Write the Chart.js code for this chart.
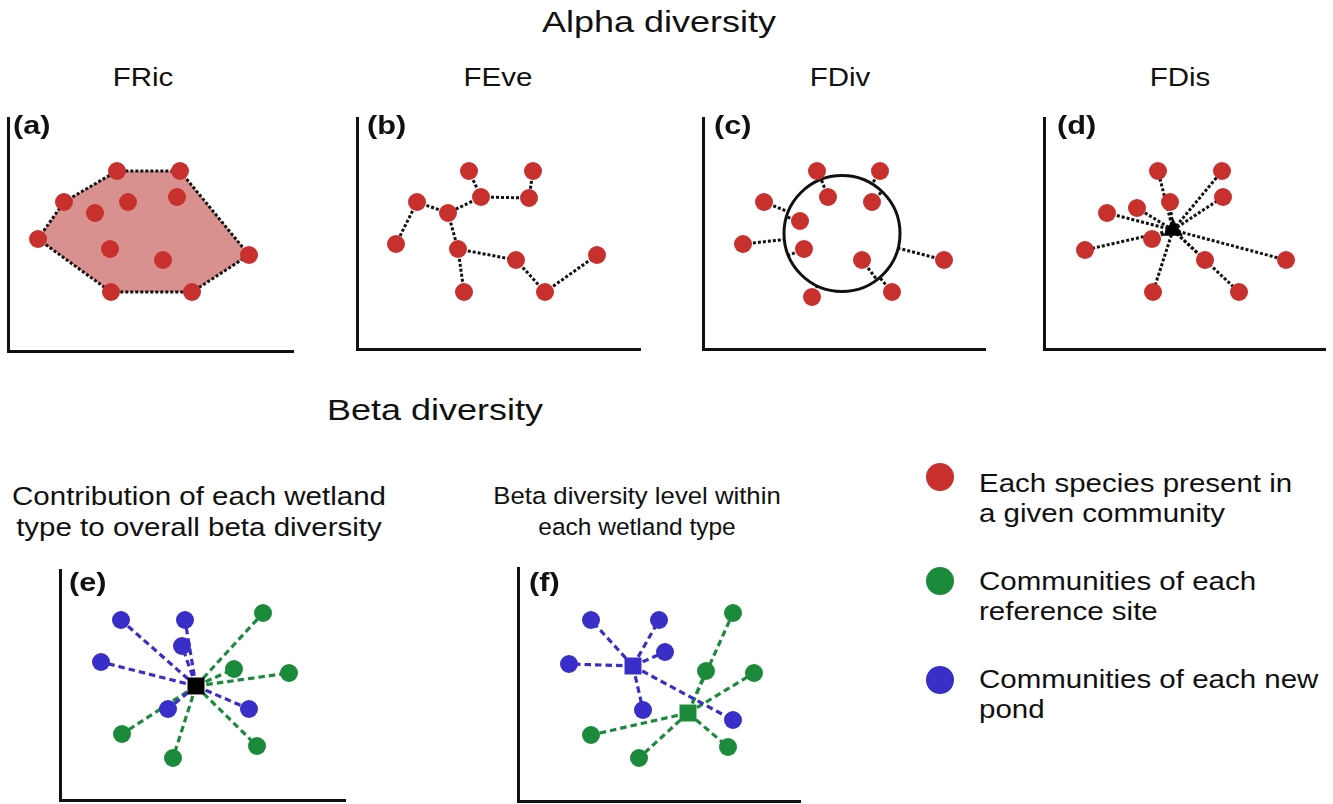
<!DOCTYPE html>
<html>
<head>
<meta charset="utf-8">
<title>Functional diversity indices</title>
<script src="https://cdn.jsdelivr.net/npm/chart.js@4.4.1/dist/chart.umd.min.js"></script>
<style>
  html, body { margin: 0; padding: 0; background: #fff; }
  #stage { position: relative; width: 1333px; height: 804px; overflow: hidden; background: #fff; }
  #stage canvas { position: absolute; }
  .t { position: absolute; white-space: nowrap; line-height: 1; color: #111;
       font-family: "Liberation Sans", Arial, Helvetica, sans-serif; }
  .dot { position: absolute; border-radius: 50%; }
</style>
</head>
<body>
<div id="stage">
  <canvas id="panelA"></canvas>
  <canvas id="panelB"></canvas>
  <canvas id="panelC"></canvas>
  <canvas id="panelD"></canvas>
  <canvas id="panelE"></canvas>
  <canvas id="panelF"></canvas>
</div>
<script>
// ---- Trait-space positions (x, y) of each species / community ----

// (a) FRic: species and the convex hull around them
const fricSpecies = [[109,180],[172,180],[56,149],[120,149],[87,138],[169,154],
                     [30,112],[102,102],[155,91],[241,96],[103,59],[184,59]];
const fricHull = [6, 2, 0, 1, 9, 11, 10];          // hull vertices, in order

// (b) FEve: species and the minimum spanning tree linking them
const feveSpecies = [[112,178],[176,178],[124,152],[172,151],[60,147],[91,136],
                     [39,105],[101,100],[159,89],[240,94],[107,57],[188,57]];
const feveTree = [[0,2],[1,3],[2,3],[2,5],[4,5],[4,6],[5,7],[7,10],[7,8],[8,11],[11,9]];

// (c) FDiv: species and the mean-distance circle around the centre of gravity
const fdivSpecies = [[114,178],[177,178],[125,152],[169,147],[61,147],[97,128],
                     [40,105],[101,100],[159,89],[241,89],[109,52],[189,57]];
const fdivCentre = [139, 115.5];
const fdivRadius = 58;

// (d) FDis: species and their weighted centroid
const fdisSpecies = [[114,178],[178,178],[126,147],[179,152],[63,136],[93,141],
                     [41,99],[108,110],[161,89],[242,89],[109,57],[195,57]];
const fdisCentroid = [129, 119];

// (e) contribution to overall beta diversity: one overall centroid
const contribNewPonds  = [[61,180],[125,180],[122,154],[41,138],[108,91],[189,91]];
const contribReference = [[203,187],[174,131],[229,127],[62,66],[113,42],[197,54]];
const contribCentroid  = [136, 114];

// (f) beta diversity within each wetland type: one centroid per type
const levelNewPonds  = [[73,181],[141,181],[147,149],[51,137],[125,91],[215,81]];
const levelReference = [[215,188],[188,130],[236,128],[73,66],[121,43],[210,54]];
const levelNewCentroid = [115, 135];
const levelRefCentroid = [170, 88];

// Legend entries
const legendLabels = [
  ['Each species present in', 'a given community'],
  ['Communities of each', 'reference site'],
  ['Communities of each new', 'pond']
];

// ---- Styling ----
const RED = '#c8302d', PINK = '#d9918f', GREEN = '#1b8b3b', BLUE = '#3a2ec8', INK = '#111';

const pt = ([x, y]) => ({ x, y });

function dots(list, color, radius = 9) {
  return { data: list.map(pt), pointRadius: radius, pointHoverRadius: radius,
           backgroundColor: color, borderWidth: 0, order: 0, clip: false };
}
function marker(p, style, color, radius) {
  return { data: [pt(p)], pointStyle: style, pointRadius: radius, pointHoverRadius: radius,
           backgroundColor: color, borderWidth: 0, order: 0, clip: false };
}
const dotted = color => ({ borderColor: color, borderWidth: 3, borderDash: [3, 2] });
const dashed = color => ({ borderColor: color, borderWidth: 3.2, borderDash: [6.5, 4] });
function segments(pairs, style) {
  return pairs.map(([a, b]) => Object.assign({
    data: [pt(a), pt(b)], showLine: true, pointRadius: 0, pointHoverRadius: 0,
    fill: false, clip: false, order: 2
  }, style));
}
// spokes start at the centre so that overlapping spokes share one dash phase
const spokes = (centre, list, style) => segments(list.map(p => [centre, p]), style);

// Fills the polygon traced by any dataset carrying an areaColor
const areaFill = {
  id: 'areaFill',
  beforeDatasetsDraw(chart) {
    const ctx = chart.ctx;
    chart.data.datasets.forEach((ds, i) => {
      if (!ds.areaColor) return;
      const els = chart.getDatasetMeta(i).data;
      ctx.save();
      ctx.beginPath();
      els.forEach((e, k) => k ? ctx.lineTo(e.x, e.y) : ctx.moveTo(e.x, e.y));
      ctx.closePath();
      ctx.fillStyle = ds.areaColor;
      ctx.fill();
      ctx.restore();
    });
  }
};

// Draws the FDiv circle in data units through the chart scales
const divCircle = {
  id: 'divCircle',
  beforeDatasetsDraw(chart) {
    const { ctx, scales: { x, y } } = chart;
    const cx = x.getPixelForValue(fdivCentre[0]);
    const cy = y.getPixelForValue(fdivCentre[1]);
    const r = x.getPixelForValue(fdivCentre[0] + fdivRadius) - cx;
    ctx.save();
    ctx.beginPath();
    ctx.arc(cx, cy, r, 0, Math.PI * 2);
    ctx.lineWidth = 3;
    ctx.strokeStyle = INK;
    ctx.stroke();
    ctx.restore();
  }
};

function buildPanel(id, axis, datasets, plugins = []) {
  const pad = 14;
  const w = axis.right - axis.left, h = axis.bottom - axis.top;
  const cv = document.getElementById(id);
  cv.width = w + 2 * pad; cv.height = h + 2 * pad;
  cv.style.width = cv.width + 'px'; cv.style.height = cv.height + 'px';
  cv.style.left = (axis.left - pad) + 'px'; cv.style.top = (axis.top - pad) + 'px';
  const scale = max => ({
    type: 'linear', min: 0, max, display: true,
    ticks: { display: false },
    grid: { display: false, drawTicks: false },
    border: { display: true, color: INK, width: 3 }
  });
  return new Chart(cv, {
    type: 'scatter',
    data: { datasets },
    options: {
      responsive: false, animation: false, events: [],
      layout: { padding: pad },
      plugins: { legend: { display: false }, tooltip: { enabled: false } },
      scales: { x: scale(w), y: scale(h) }
    },
    plugins
  });
}

// (a) FRic
const hullPath = fricHull.concat(fricHull[0]).map(i => fricSpecies[i]);
buildPanel('panelA', { left: 8, top: 118, bottom: 351, right: 293 }, [
  dots(fricSpecies, RED),
  Object.assign({ data: hullPath.map(pt), showLine: true, pointRadius: 0, pointHoverRadius: 0,
                  fill: false, clip: false, order: 2, areaColor: PINK }, dotted(INK))
], [areaFill]);

// (b) FEve
buildPanel('panelB', { left: 357, top: 118, bottom: 349, right: 640 }, [
  dots(feveSpecies, RED),
  ...segments(feveTree.map(([a, b]) => [feveSpecies[a], feveSpecies[b]]), dotted(INK))
]);

// (c) FDiv: each species linked radially to the circle
const toCircle = p => {
  const dx = p[0] - fdivCentre[0], dy = p[1] - fdivCentre[1];
  const d = Math.hypot(dx, dy);
  return [fdivCentre[0] + dx * fdivRadius / d, fdivCentre[1] + dy * fdivRadius / d];
};
buildPanel('panelC', { left: 703, top: 118, bottom: 349, right: 985 }, [
  dots(fdivSpecies, RED),
  ...segments(fdivSpecies.map(p => [p, toCircle(p)]), dotted(INK))
], [divCircle]);

// (d) FDis
buildPanel('panelD', { left: 1044, top: 118, bottom: 349, right: 1325 }, [
  marker(fdisCentroid, 'triangle', '#000', 11.5),
  dots(fdisSpecies, RED),
  ...spokes(fdisCentroid, fdisSpecies, dotted(INK))
]);

// (e) overall centroid
buildPanel('panelE', { left: 60, top: 570, bottom: 800, right: 345 }, [
  marker(contribCentroid, 'rect', '#000', 12),
  dots(contribNewPonds, BLUE),
  dots(contribReference, GREEN),
  ...spokes(contribCentroid, contribNewPonds, dashed(BLUE)),
  ...spokes(contribCentroid, contribReference, dashed(GREEN))
]);

// (f) centroid per wetland type
buildPanel('panelF', { left: 518, top: 568, bottom: 801, right: 800 }, [
  marker(levelNewCentroid, 'rect', BLUE, 12),
  marker(levelRefCentroid, 'rect', GREEN, 12),
  dots(levelNewPonds, BLUE),
  dots(levelReference, GREEN),
  ...spokes(levelNewCentroid, levelNewPonds, dashed(BLUE)),
  ...spokes(levelRefCentroid, levelReference, dashed(GREEN))
]);

// ---- Text ----
const stage = document.getElementById('stage');
function addText(s, x, baseline, size, opts = {}) {
  const el = document.createElement('div');
  el.className = 't';
  el.textContent = s;
  el.style.fontSize = size + 'px';
  if (opts.bold) el.style.fontWeight = 'bold';
  el.style.top = (baseline - 0.8465 * size) + 'px';
  el.style.left = x + 'px';
  const k = opts.stretch || 1.18;
  if (opts.center) {
    el.style.transformOrigin = '50% 0';
    el.style.transform = `translateX(-50%) scaleX(${k})`;
  } else {
    el.style.transformOrigin = '0 0';
    el.style.transform = `scaleX(${k})`;
  }
  stage.appendChild(el);
}

addText('Alpha diversity', 659, 33, 29, { center: true, stretch: 1.24 });
[['FRic', 143], ['FEve', 498], ['FDiv', 840], ['FDis', 1180]]
  .forEach(([s, x]) => addText(s, x, 86, 25, { center: true }));
[['(a)', 13, 134], ['(b)', 367, 134], ['(c)', 714, 134], ['(d)', 1057, 134],
 ['(e)', 69, 591], ['(f)', 529, 591]]
  .forEach(([s, x, b]) => addText(s, x, b, 26, { bold: true }));

addText('Beta diversity', 435, 421, 29, { center: true, stretch: 1.24 });
addText('Contribution of each wetland', 199, 505, 25, { center: true });
addText('type to overall beta diversity', 199, 536, 25, { center: true });
addText('Beta diversity level within', 637, 505, 24.5, { center: true, stretch: 1.05 });
addText('each wetland type', 637, 536, 24.5, { center: true, stretch: 1.0 });

// Legend
const legendColors = [RED, GREEN, BLUE];
const legendRows = [[477, 492], [581, 590], [680, 688]];
legendLabels.forEach((lines, i) => {
  const d = document.createElement('div');
  d.className = 'dot';
  d.style.background = legendColors[i];
  d.style.width = d.style.height = '28px';
  d.style.left = (940 - 14) + 'px';
  d.style.top = (legendRows[i][0] - 14) + 'px';
  stage.appendChild(d);
  lines.forEach((s, j) => addText(s, 979, legendRows[i][1] + 30 * j, 25));
});
</script>
</body>
</html>
